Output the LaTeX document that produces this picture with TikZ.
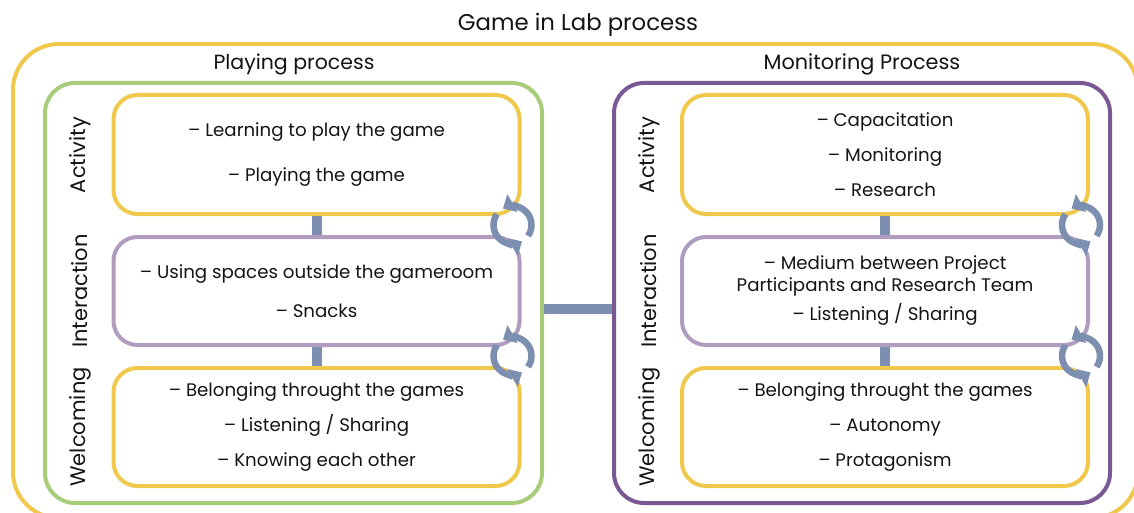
\documentclass[tikz,border=0pt]{standalone}
\usepackage{fontspec}
\setmainfont{Poppins}
\usetikzlibrary{arrows.meta,calc}
\definecolor{cYel}{HTML}{F0C84C}
\definecolor{cGrn}{HTML}{A8CD7A}
\definecolor{cPur}{HTML}{7A5893}
\definecolor{cLav}{HTML}{B09CBF}
\definecolor{cBlu}{HTML}{7D8FB0}
\definecolor{cTxt}{HTML}{141414}
\tikzset{
  frame/.style={draw, line width=4pt, rounded corners=30pt, inner sep=0pt},
  inbox/.style={draw, line width=4pt, rounded corners=24pt, inner sep=0pt,
     minimum width=406pt, minimum height=119pt, align=center, text=cTxt,
     font=\fontsize{18.2}{35}\selectfont},
  ttl/.style={text=cTxt, inner sep=0pt},
  side/.style={text=cTxt, inner sep=0pt, rotate=90, font=\fontsize{21}{24}\selectfont},
  bar/.style={draw=cBlu, line width=10pt},
  cyc/.style={draw=cBlu, line width=6.5pt, -{Triangle[length=11pt,width=20pt]}},
}
\begin{document}
\begin{tikzpicture}[x=1pt,y=-1pt]
\useasboundingbox (0,0) rectangle (1134,513);
\clip (0,0) rectangle (1134,513);
% outer frame
\node[frame, draw=cYel, rounded corners=46pt, minimum width=1125pt, minimum height=474pt] (outer) at (575.5,281) {};
\node[ttl, font=\fontsize{22.8}{26}\selectfont] (title) at (578,25) {Game in Lab process};
% process frames
\node[frame, draw=cGrn, minimum width=497pt, minimum height=420pt] (play) at (293.5,293) {};
\node[frame, draw=cPur, minimum width=496pt, minimum height=420pt] (mon) at (862,293) {};
\node[ttl, font=\fontsize{20.5}{24}\selectfont] (playT) at (294,64) {Playing process};
\node[ttl, font=\fontsize{20.8}{24}\selectfont] (monT) at (862,64) {Monitoring Process};
% left boxes
\node[inbox, draw=cYel, font=\fontsize{18.2}{45}\selectfont] (actL) at (316.5,154.5) {– Learning to play the game\\ – Playing the game};
\node[inbox, draw=cLav, minimum height=108pt, font=\fontsize{18.2}{39}\selectfont] (intL) at (316.5,291) {– Using spaces outside the gameroom\\ – Snacks};
\node[inbox, draw=cYel, minimum height=118pt] (welL) at (316.5,427) {– Belonging throught the games\\ – Listening / Sharing\\ – Knowing each other};
% right boxes
\node[inbox, draw=cYel] (actR) at (885,154.5) {– Capacitation\\ – Monitoring\\ – Research};
\node[inbox, draw=cLav, minimum height=108pt, font=\fontsize{18.2}{22}\selectfont] (intR) at (885,291) {– Medium between Project\\ Participants and Research Team\\[7pt] – Listening / Sharing};
\node[inbox, draw=cYel, minimum height=118pt] (welR) at (885,427) {– Belonging throught the games\\ – Autonomy\\ – Protagonism};
% side labels
\node[side] (a1) at (80,155) {Activity};
\node[side] (i1) at (80,291) {Interaction};
\node[side] (w1) at (80,427) {Welcoming};
\node[side] (a2) at (649,155) {Activity};
\node[side] (i2) at (649,291) {Interaction};
\node[side] (w2) at (649,427) {Welcoming};
% connectors
\draw[bar] (actL.south) -- (intL.north);
\draw[bar] (intL.south) -- (welL.north);
\draw[bar] (actR.south) -- (intR.north);
\draw[bar] (intR.south) -- (welR.north);
\draw[bar] ([yshift=-16pt]play.east) -- ([yshift=-16pt]mon.west);
% cycle icons
\foreach \b in {actL,intL,actR,intR}{
  \coordinate (c\b) at ($(\b.south east)+(-9,9)$);
  \draw[cyc] ($(c\b)+(35:19)$) arc[start angle=35, end angle=-120, radius=19];
  \draw[cyc] ($(c\b)+(215:19)$) arc[start angle=215, end angle=60, radius=19];
}
\end{tikzpicture}
\end{document}
